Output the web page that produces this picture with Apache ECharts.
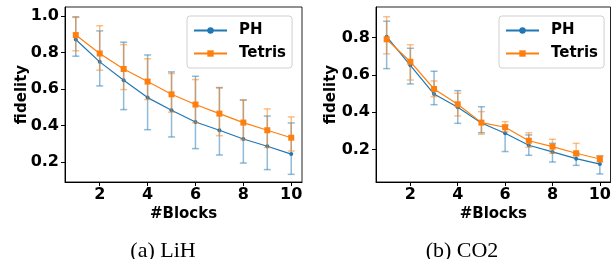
<!DOCTYPE html>
<html>
<head>
<meta charset="utf-8">
<script src="https://cdn.jsdelivr.net/npm/echarts@6/dist/echarts.min.js"></script>
<style>
  html, body { margin: 0; padding: 0; background: #fff; }
  #chart { width: 614px; height: 259px; }
</style>
</head>
<body>
<div id="chart"></div>
<script>
const blocks = [1, 2, 3, 4, 5, 6, 7, 8, 9, 10];
const xTicks = [2, 4, 6, 8, 10];

// (a) LiH
const lihPH = [0.872, 0.749, 0.648, 0.553, 0.484, 0.419, 0.374, 0.326, 0.286, 0.243];
const lihPHLow = [0.780, 0.617, 0.487, 0.377, 0.337, 0.273, 0.238, 0.194, 0.158, 0.132];
const lihPHHigh = [0.996, 0.919, 0.857, 0.787, 0.694, 0.670, 0.608, 0.540, 0.452, 0.414];
const lihTetris = [0.896, 0.795, 0.710, 0.641, 0.571, 0.515, 0.465, 0.416, 0.374, 0.333];
const lihTetrisLow = [0.810, 0.703, 0.597, 0.542, 0.473, 0.416, 0.344, 0.322, 0.279, 0.260];
const lihTetrisHigh = [0.993, 0.947, 0.844, 0.766, 0.685, 0.652, 0.606, 0.540, 0.491, 0.447];
const lihYTicks = [0.2, 0.4, 0.6, 0.8, 1.0];

// (b) CO2
const co2PH = [0.805, 0.652, 0.498, 0.427, 0.343, 0.288, 0.224, 0.188, 0.152, 0.123];
const co2PHLow = [0.634, 0.552, 0.441, 0.341, 0.291, 0.190, 0.170, 0.134, 0.116, 0.070];
const co2PHHigh = [0.888, 0.743, 0.620, 0.516, 0.430, 0.331, 0.279, 0.234, 0.181, 0.166];
const co2Tetris = [0.791, 0.671, 0.525, 0.443, 0.345, 0.320, 0.248, 0.216, 0.181, 0.150];
const co2TetrisLow = [0.713, 0.573, 0.484, 0.381, 0.283, 0.295, 0.213, 0.181, 0.166, 0.133];
const co2TetrisHigh = [0.912, 0.762, 0.568, 0.502, 0.404, 0.350, 0.291, 0.256, 0.234, 0.168];
const co2YTicks = [0.2, 0.4, 0.6, 0.8];

const blue = '#1f77b4';
const orange = '#ff7f0e';
const blueBar = 'rgba(31,119,180,0.5)';
const orangeBar = 'rgba(255,127,14,0.5)';
const font = 'DejaVu Sans';

const chart = echarts.init(document.getElementById('chart'));

const errRender = (color) => (params, api) => {
  const x = api.value(0);
  const top = api.coord([x, api.value(2)]);
  const bot = api.coord([x, api.value(1)]);
  const w = 3.5;
  const st = { stroke: color, lineWidth: 1.5 };
  return {
    type: 'group',
    children: [
      { type: 'line', shape: { x1: top[0], y1: top[1], x2: bot[0], y2: bot[1] }, style: st },
      { type: 'line', shape: { x1: top[0] - w, y1: top[1], x2: top[0] + w, y2: top[1] }, style: st },
      { type: 'line', shape: { x1: bot[0] - w, y1: bot[1], x2: bot[0] + w, y2: bot[1] }, style: st }
    ]
  };
};

const xAxisOf = (gridIndex) => ({
  type: 'value', gridIndex, min: 0.55, max: 10.45,
  name: '#Blocks', nameLocation: 'middle', nameGap: 25, nameMoveOverlap: false,
  nameTextStyle: { fontFamily: font, fontWeight: 'bold', fontSize: 15, color: '#000' },
  axisLine: { show: true, lineStyle: { color: '#000', width: 1 } },
  axisTick: { show: true, length: 4, lineStyle: { color: '#000' }, customValues: xTicks },
  axisLabel: { fontFamily: font, fontWeight: 'bold', fontSize: 16, color: '#000', margin: 5, customValues: xTicks },
  splitLine: { show: false }
});

const yAxisOf = (gridIndex, min, max, ticks, nameGap) => ({
  type: 'value', gridIndex, min, max,
  name: 'fidelity', nameLocation: 'middle', nameGap, nameMoveOverlap: false,
  nameTextStyle: { fontFamily: font, fontWeight: 'bold', fontSize: 15, color: '#000' },
  axisLine: { show: true, lineStyle: { color: '#000', width: 1 } },
  axisTick: { show: true, length: 4, lineStyle: { color: '#000' }, customValues: ticks },
  axisLabel: { fontFamily: font, fontWeight: 'bold', fontSize: 16, color: '#000', margin: 6,
    customValues: ticks, formatter: v => v.toFixed(1) },
  splitLine: { show: false }
});

const seriesOf = (idx, ph, phLo, phHi, te, teLo, teHi) => [
  {
    name: 'PH', type: 'line', xAxisIndex: idx, yAxisIndex: idx,
    data: blocks.map((x, i) => [x, ph[i]]), symbol: 'circle', symbolSize: 4,
    itemStyle: { color: blue }, lineStyle: { color: blue, width: 1.2 }, z: 3
  },
  {
    name: 'PH', type: 'custom', xAxisIndex: idx, yAxisIndex: idx,
    data: blocks.map((x, i) => [x, phLo[i], phHi[i]]), renderItem: errRender(blueBar), z: 2
  },
  {
    name: 'Tetris', type: 'line', xAxisIndex: idx, yAxisIndex: idx,
    data: blocks.map((x, i) => [x, te[i]]), symbol: 'rect', symbolSize: 6,
    itemStyle: { color: orange }, lineStyle: { color: orange, width: 1.2 }, z: 5
  },
  {
    name: 'Tetris', type: 'custom', xAxisIndex: idx, yAxisIndex: idx,
    data: blocks.map((x, i) => [x, teLo[i], teHi[i]]), renderItem: errRender(orangeBar), z: 4
  }
];

const legendOf = (left) => ({
  left, top: 16, orient: 'vertical',
  data: ['PH', 'Tetris'],
  itemWidth: 33, itemHeight: 8, itemGap: 8,
  padding: [7, 6, 7, 6],
  borderColor: '#d0d0d0', borderWidth: 1, borderRadius: 3,
  formatter: '{t|{name}}',
  textStyle: {
    fontFamily: font, fontWeight: 'bold', fontSize: 15, lineHeight: 15, color: '#000',
    rich: { t: { fontFamily: font, fontWeight: 'bold', fontSize: 15, lineHeight: 15, color: '#000', padding: [0, 0, 0, 7] } }
  }
});

const captionStyle = { fontFamily: 'Liberation Serif', fontWeight: 'normal', fontSize: 22, color: '#000' };

const option = {
  animation: false,
  title: [
    { text: '(a) LiH', left: 158, top: 235, textAlign: 'center', textStyle: captionStyle },
    { text: '(b) CO2', left: 457, top: 235, textAlign: 'center', textStyle: captionStyle }
  ],
  grid: [
    { left: 65, top: 7, width: 237, height: 175, show: true, borderColor: '#222', borderWidth: 1 },
    { left: 376, top: 7, width: 235, height: 175, show: true, borderColor: '#222', borderWidth: 1 }
  ],
  legend: [legendOf(187), legendOf(499)],
  xAxis: [xAxisOf(0), xAxisOf(1)],
  yAxis: [yAxisOf(0, 0.09, 1.05, lihYTicks, 35), yAxisOf(1, 0.027, 0.964, co2YTicks, 37)],
  series: [
    ...seriesOf(0, lihPH, lihPHLow, lihPHHigh, lihTetris, lihTetrisLow, lihTetrisHigh),
    ...seriesOf(1, co2PH, co2PHLow, co2PHHigh, co2Tetris, co2TetrisLow, co2TetrisHigh)
  ]
};

chart.setOption(option);
</script>
</body>
</html>
